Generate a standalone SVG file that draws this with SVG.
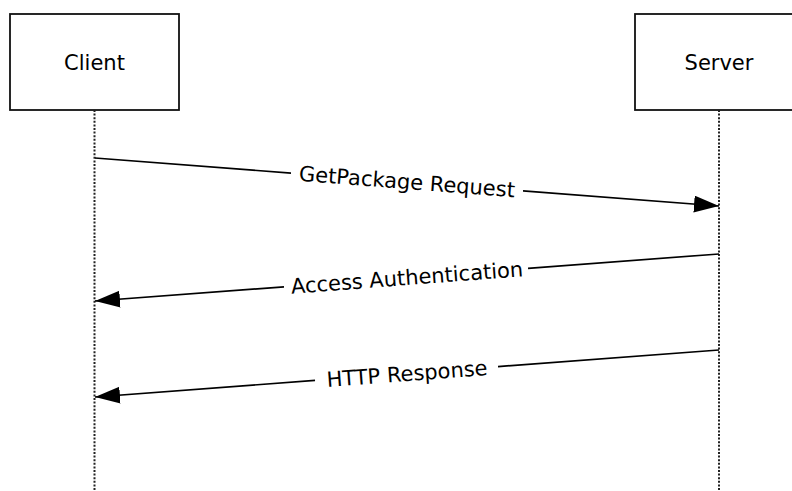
<svg xmlns="http://www.w3.org/2000/svg" width="792" height="491" viewBox="0 0 792 491">
<style>
.box{fill:#fff;stroke:#111;stroke-width:1.8}
.life{stroke:#222;stroke-width:2;stroke-dasharray:2 1.6;fill:none}
.msg{stroke:#000;stroke-width:1.7;fill:none}
text{font-family:"DejaVu Sans",Verdana,sans-serif;font-size:21px;fill:#000}
.lbl{text-anchor:middle}
</style>
<defs>
<marker id="arr" markerUnits="userSpaceOnUse" markerWidth="26" markerHeight="18" refX="25" refY="8.5" orient="auto">
<path d="M0,0 L25,8.5 L0,17 z" fill="#000"/>
</marker>
</defs>
<rect width="792" height="491" fill="#fff"/>
<g id="client">
<rect class="box" x="10" y="14" width="169" height="96"/>
<text class="lbl" x="94.5" y="70">Client</text>
</g>
<g id="server">
<rect class="box" x="635" y="14" width="169" height="96"/>
<text class="lbl" x="719" y="70">Server</text>
</g>
<g id="connectors">
<line class="life" x1="94.5" y1="110" x2="94.5" y2="491"/>
<line class="life" x1="719" y1="110" x2="719" y2="491"/>
<g id="msg1">
<line class="msg" x1="95" y1="158" x2="291" y2="173.1"/>
<line class="msg" x1="523" y1="190.9" x2="719" y2="206" marker-end="url(#arr)"/>
<text class="lbl" x="407" y="189" transform="rotate(4.4 407 182)">GetPackage Request</text>
</g>
<g id="msg2">
<line class="msg" x1="719" y1="254" x2="528" y2="268.4"/>
<line class="msg" x1="284" y1="286.8" x2="95" y2="301" marker-end="url(#arr)"/>
<text class="lbl" x="407" y="285" transform="rotate(-4.31 407 277.5)">Access Authentication</text>
</g>
<g id="msg3">
<line class="msg" x1="719" y1="350" x2="498" y2="366.6"/>
<line class="msg" x1="315" y1="380.4" x2="95" y2="397" marker-end="url(#arr)"/>
<text class="lbl" x="407" y="381" transform="rotate(-4.31 407 373.5)">HTTP Response</text>
</g>
</g>
</svg>
